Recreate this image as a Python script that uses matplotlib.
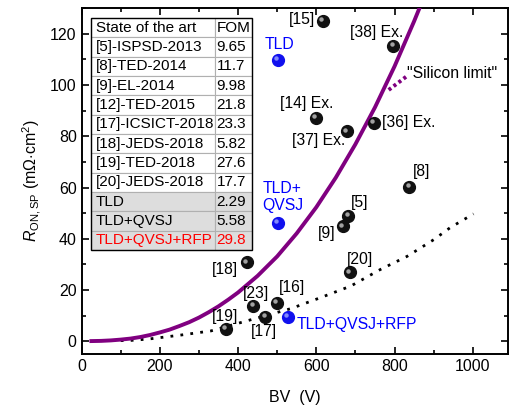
import numpy as np
import matplotlib
matplotlib.use('Agg')
import matplotlib.pyplot as plt
from matplotlib.transforms import offset_copy
from matplotlib.ticker import MultipleLocator

plt.rcParams['font.family'] = ['Liberation Sans', 'DejaVu Sans']
plt.rcParams['mathtext.fontset'] = 'custom'
plt.rcParams['mathtext.rm'] = 'Liberation Sans'
plt.rcParams['mathtext.it'] = 'Liberation Sans:italic'

# silicon limit curve
si_bv = [20, 50, 75, 100, 125, 150, 175, 200, 225, 250, 275, 300, 325, 350, 375, 400, 450,
         500, 550, 600, 650, 700, 750, 800, 850, 870]
si_r = [0.01, 0.1, 0.29, 0.6, 1.0, 1.6, 2.4, 3.4, 4.5, 5.9, 7.4, 9.2, 11.3, 13.6, 16.2, 19.0,
        25.5, 33.1, 42.1, 52.3, 63.9, 76.9, 91.3, 107.3, 124.9, 132.4]

# dotted trend line
fit_bv = [100, 127, 170, 255, 331, 408, 535, 611, 688, 764, 832, 900, 943, 1002]
fit_r = [0.2, 0.3, 0.8, 2.4, 4.0, 7.3, 12.7, 17.0, 21.5, 28.0, 33.1, 39.6, 44.4, 49.7]

# state of the art devices
ref_names = ['[15]', '[38] Ex.', '[14] Ex.', '[37] Ex.', '[36] Ex.', '[8]', '[5]', '[9]',
             '[20]', '[18]', '[23]', '[16]', '[17]', '[19]']
ref_bv = [616, 797, 599, 678, 747, 838, 682, 667, 686, 422, 439, 499, 470, 368]
ref_r = [125, 115.3, 87.3, 82, 85.2, 60.3, 48.9, 44.8, 26.9, 30.8, 13.7, 15, 9.6, 4.9]
# label anchors (bv, r, ha)
ref_lab = [(596, 125.8, 'right'), (685, 120.5, 'left'), (507, 92.8, 'left'),
           (537, 78.2, 'left'), (769, 85.2, 'left'), (846, 66.1, 'left'),
           (688, 54.0, 'left'), (650, 42.2, 'right'), (677, 31.8, 'left'),
           (401, 28.0, 'right'), (413, 18.5, 'left'), (504, 20.9, 'left'),
           (433, 3.6, 'left'), (334, 9.8, 'left')]

# this work
tw_names = ['TLD', 'TLD+\nQVSJ', 'TLD+QVSJ+RFP']
tw_bv = [501, 501, 528]
tw_r = [109.8, 46.1, 9.6]
tw_lab = [(469, 116.0), (463, 56.3), (550, 6.6)]

table_rows = ['State of the art', '[5]-ISPSD-2013', '[8]-TED-2014', '[9]-EL-2014',
              '[12]-TED-2015', '[17]-ICSICT-2018', '[18]-JEDS-2018', '[19]-TED-2018',
              '[20]-JEDS-2018', 'TLD', 'TLD+QVSJ', 'TLD+QVSJ+RFP']
table_fom = ['FOM', '9.65', '11.7', '9.98', '21.8', '23.3', '5.82', '27.6', '17.7',
             '2.29', '5.58', '29.8']

fig = plt.figure(figsize=(5.1, 4.13), dpi=100)
ax = fig.add_axes([0.160, 0.143, 0.836, 0.837])

purple = '#800080'
ax.plot(si_bv, si_r, color=purple, lw=2.8, zorder=3, solid_capstyle='butt')
ax.plot(fit_bv, fit_r, color='black', lw=2.0, ls=(0, (1, 2.6)), zorder=2)


def spheres(x, y, face, shine):
    ax.plot(x, y, 'o', ms=8.5, mfc=face, mec=face, zorder=5)
    tr = offset_copy(ax.transData, fig=fig, x=-1.2, y=1.2, units='points')
    ax.plot(x, y, 'o', ms=3.2, mfc=shine, mec='none', alpha=0.8, transform=tr, zorder=6)


spheres(ref_bv, ref_r, '#111111', '#c8c8c8')
spheres(tw_bv, tw_r, '#1010ee', '#a0a8ff')

for name, (lx, ly, ha) in zip(ref_names, ref_lab):
    ax.text(lx, ly, name, ha=ha, va='center', fontsize=11.3, zorder=7)
for name, (lx, ly) in zip(tw_names, tw_lab):
    ax.text(lx, ly, name, ha='left', va='center', fontsize=11.3, color='#0000ff',
            linespacing=1.2, zorder=7)

# silicon limit tag
ax.plot([785, 830], [98.1, 103.3], color=purple, lw=2.8, ls=(0, (0.8, 0.8)), zorder=3)
ax.text(832, 104.6, '"Silicon limit"', ha='left', va='center', fontsize=11.3)

ax.set_xlim(0, 1090)
ax.set_ylim(-5, 130)
ax.xaxis.set_major_locator(MultipleLocator(200))
ax.xaxis.set_minor_locator(MultipleLocator(100))
ax.yaxis.set_major_locator(MultipleLocator(20))
ax.yaxis.set_minor_locator(MultipleLocator(10))
ax.tick_params(which='both', direction='in', top=True, right=True, labelsize=11.5, width=1.2)
ax.tick_params(which='major', length=5)
ax.tick_params(which='minor', length=3)
for s in ax.spines.values():
    s.set_linewidth(1.4)

ax.set_xlabel('BV  (V)', fontsize=11.5, labelpad=12)
ax.set_ylabel(r'$\mathit{R}_{\mathrm{ON,SP}}$ (m$\Omega$$\cdot$cm$^2$)', fontsize=11.5, labelpad=5)

# comparison table
tw = 0.378
tab = ax.table(cellText=[[a, b] for a, b in zip(table_rows, table_fom)],
               colWidths=[0.77 * tw, 0.23 * tw], cellLoc='left',
               bbox=[0.0218, 0.301, tw, 0.671], zorder=8)
tab.auto_set_font_size(False)
tab.set_fontsize(11)
for (r, c), cell in tab.get_celld().items():
    cell.set_edgecolor('#b0b0b0')
    cell.set_linewidth(0.8)
    cell.PAD = 0.04
    if r >= 9:
        cell.set_facecolor('#dddddd')
    if r == 11:
        cell.get_text().set_color('#ff0000')
ax.add_patch(plt.Rectangle((0.0218, 0.301), tw, 0.671, transform=ax.transAxes,
                           fill=False, lw=1.0, ec='black', zorder=9))

fig.savefig('out.png', dpi=100)
